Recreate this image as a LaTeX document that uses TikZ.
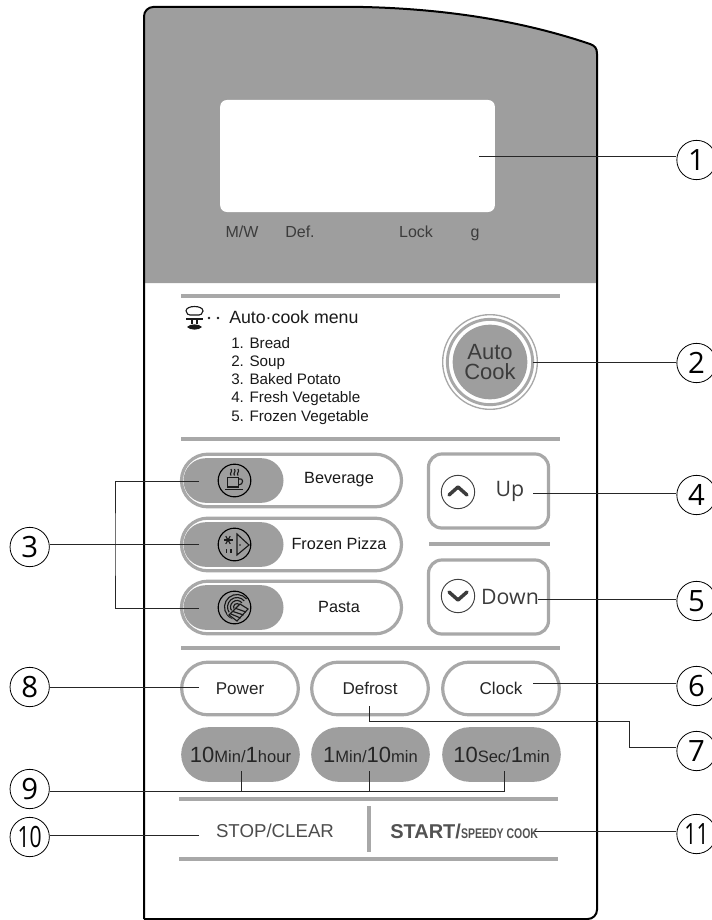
\documentclass[tikz,border=0pt]{standalone}
\usepackage{graphicx}
\usepackage{fontspec}
\setmainfont{Liberation Sans}
\newfontfamily\numfont{Open Sans}
\usetikzlibrary{calc,shapes.misc}

\definecolor{panelgray}{HTML}{9E9E9E}
\definecolor{rimgray}{HTML}{A8A8A8}
\definecolor{inkgray}{HTML}{3C3C3C}
\newcommand{\fs}[1]{\fontsize{#1}{#1}\selectfont}

\begin{document}
\begin{tikzpicture}[x=0.75pt,y=-0.75pt,
    numcircle/.style={circle,draw,fill=white,line width=0.6pt,minimum size=29.5pt,inner sep=0pt,font=\numfont\fs{22}},
    leader/.style={line width=0.75pt,color=black!85},
    panelrule/.style={line width=2.4pt,color=rimgray},
    softkey/.style={rounded rectangle,draw=rimgray,fill=white,line width=2.4pt,minimum width=87.5pt,minimum height=39.5pt,inner sep=0pt,font=\fs{12.8},text=black!85},
    widekey/.style={softkey,minimum width=165pt},
    iconpad/.style={rounded rectangle,fill=panelgray,minimum width=75pt,minimum height=33.5pt,inner sep=0pt},
    timekey/.style={rounded rectangle,fill=panelgray,minimum width=89pt,minimum height=41pt,inner sep=0pt,text=black!85},
    arrowkey/.style={rounded corners=10pt,draw=rimgray,fill=white,line width=2.4pt,minimum width=90pt,minimum height=55.5pt},
    arrowdisc/.style={circle,draw=black!75,line width=0.7pt,minimum size=25pt,inner sep=0pt},
    lamp/.style={anchor=base,text=inkgray,font=\fs{12}},
    icon/.style={line width=0.85pt,color=black!90},
    chevron/.style={line width=2.6pt,color=inkgray,line cap=round,line join=round}]

    \useasboundingbox (0,0) rectangle (712,920);

    % housing
    \fill[panelgray] (144,283) -- (144,15) arc[start angle=180,end angle=90,radius=6pt] -- (363,7)
        .. controls (450,9) and (525,22) .. (590,44) .. controls (595,46) and (597,48) .. (597,54) -- (597,283) -- cycle;
    \draw[line width=1.5pt,rounded corners=7pt] (144,919) -- (144,7) -- (363,7);
    \draw[line width=1.5pt] (363,7) .. controls (450,9) and (525,22) .. (590,44) .. controls (595,46) and (597,48) .. (597,54);
    \draw[line width=1.5pt,rounded corners=7pt] (597,54) -- (597,919) -- (144,919);

    \node[fill=white,rounded corners=5pt,minimum width=206pt,minimum height=84pt,inner sep=0pt] (screen) at (357.5,156) {};
    \foreach \name/\px in {M\slash W/242,Def./300,Lock/416,g/475}
        \node[lamp] at (\px,237) {\name};

    \foreach \ya in {296,439,648}
        \draw[panelrule] (181,\ya) -- (560,\ya);
    \draw[panelrule] (429,544) -- (550,544);
    \foreach \ya in {799,859}
        \draw[panelrule] (179,\ya) -- (558,\ya);
    \draw[panelrule] (369,806) -- (369,852);

    % auto cook menu
    \begin{scope}[icon]
        \draw (186,311) .. controls (186,305) and (203,305) .. (203,311) .. controls (203,314) and (200,315) .. (199,315) -- (190,315) .. controls (189,315) and (186,314) .. (186,311);
        \draw (186,319) -- (203,319);
        \draw (192,320) -- (192,324) (197,320) -- (197,324);
        \fill (187,327) .. controls (190,323.5) and (199,323.5) .. (202,327) .. controls (199,330.5) and (190,330.5) .. (187,327);
        \fill (209,318) circle (1.1pt) (218,318) circle (1.1pt);
    \end{scope}
    \node[anchor=base west,inner sep=0pt,font=\fs{13.3},text=black!90] (menutitle) at (229,323) {Auto·cook menu};
    \node[anchor=north west,inner sep=0pt,align=left,font=\fontsize{11.4}{13.65}\selectfont,text=black!90] (menulist) at (231,337)
        {1. Bread\\2. Soup\\3. Baked Potato\\4. Fresh Vegetable\\5. Frozen Vegetable};

    \draw[line width=1pt,color=rimgray] (490,362) circle (35.5pt);
    \draw[line width=2.2pt,color=rimgray] (490,362) circle (32pt);
    \node[circle,fill=panelgray,minimum size=56pt,inner sep=0pt,align=center,font=\fontsize{16.5}{15.5}\selectfont,text=inkgray] (autocook) at (490,362) {Auto\\Cook};

    % icon keys
    \foreach \key/\ya/\name in {bev/480.5/Beverage,piz/544.5/Frozen Pizza,pas/607.5/Pasta}{
        \node[widekey] (\key) at (291.5,\ya) {};
        \node[iconpad] (\key pad) at (233.5,\ya) {};
        \node[circle,draw,line width=0.85pt,minimum size=24.5pt,inner sep=0pt] (\key icon) at (234.5,\ya) {};
        \node[font=\fs{12.2},text=black!90] (\key text) at (339,\ya-1) {\name};
    }

    \begin{scope}[icon]
        % cup
        \draw (227.5,477.5) rectangle (238.5,487);
        \draw (238.5,479) .. controls (244,477) and (244,485) .. (238.5,485);
        \draw[line width=1pt] (225,489.3) -- (243,489.3);
        \foreach \sx in {231,234.5,238}
            \draw (\sx,475.5) .. controls (\sx-2,473) and (\sx+2,472) .. (\sx,469);
        % pizza
        \draw (237,534) -- (249,545) -- (237,555) -- cycle;
        \fill (240,545) circle (0.6pt);
        \foreach \rr in {0,60,120}
            \draw ($(228,540)+(\rr:4.5)$) -- ($(228,540)+(\rr+180:4.5)$);
        \draw[line width=1pt] (226.5,549) -- (226.5,553) (231,549) -- (231,553);
        % pasta
        \foreach \rr in {12.5,9.5,6.5,3.5}
            \draw ($(237,607)+(-40:\rr)$) arc[start angle=-40,end angle=-250,radius=\rr];
        \fill[panelgray] (240,604) -- (249,610) -- (237,623) -- (227,614) -- cycle;
        \draw (240,604) -- (248,609) -- (237,621) -- (229,615) -- cycle;
        \draw (236,608.5) -- (246,612) (233,611.5) -- (243.5,615) (231,614) -- (240.5,618);
    \end{scope}

    % up down keys
    \node[arrowkey] (upkey) at (488.5,491) {};
    \node[arrowkey] (downkey) at (488.5,597) {};
    \node[arrowdisc] (updisc) at (458,492) {};
    \node[arrowdisc] (downdisc) at (458,596) {};
    \draw[chevron] (449,495) -- (458,487) -- (467,495);
    \draw[chevron] (449,592) -- (458,600) -- (467,592);
    \node[font=\numfont\fs{16},text=inkgray] (uptext) at (510,491) {Up};
    \node[font=\numfont\fs{16},text=inkgray] (downtext) at (510,597) {Down};

    % plain and time keys
    \foreach \key/\px/\name in {power/240/Power,defrost/370/Defrost,clock/501/Clock}
        \node[softkey] (\key) at (\px,688.5) {\name};
    \node[timekey] (hourkey) at (240.5,754.5) {\fs{16.5}10\fs{12.4}Min/\fs{16.5}1\fs{12.4}hour};
    \node[timekey] (minkey) at (370.5,754.5) {\fs{16.5}1\fs{12.4}Min/\fs{16.5}10\fs{12.4}min};
    \node[timekey] (seckey) at (501.5,754.5) {\fs{16.5}10\fs{12.4}Sec/\fs{16.5}1\fs{12.4}min};

    \node[font=\fs{14},text=black!70] (stopkey) at (275,831) {STOP/CLEAR};
    \node[anchor=west,inner sep=0pt,font=\bfseries\fs{15},text=black!68] (startkey) at (390,831) {START/\scalebox{.75}[1]{\fs{10.5}SPEEDY COOK}};

    % callouts
    \foreach \idx/\px/\py in {1/696.5/160,2/696.5/363,4/696.5/495,5/696.5/601,6/696.5/686,7/696.5/751,3/29.7/547,8/29.7/687,9/29.7/789}
        \node[numcircle] (n\idx) at (\px,\py) {\idx};
    \node[numcircle] (n10) at (29.7,837) {\scalebox{.72}[1]{10}};
    \node[numcircle] (n11) at (696.5,834) {\scalebox{.72}[1]{11}};

    \coordinate (t1) at (479,157);
    \coordinate (t2) at (533,362);
    \coordinate (t4) at (533,493);
    \coordinate (t5) at (538,599);
    \coordinate (t6) at (533,683);
    \coordinate (t11) at (535,831);
    \foreach \idx in {1,2,4,5,6,11}
        \draw[leader] (t\idx) -- (t\idx -| n\idx.west);

    \coordinate (t8) at (199,687);
    \coordinate (t10) at (199,835);
    \foreach \idx in {8,10}
        \draw[leader] (t\idx) -- (t\idx -| n\idx.east);

    \coordinate (t3a) at (199,481);
    \coordinate (t3b) at (199,544);
    \coordinate (t3c) at (199,608);
    \coordinate (j3) at (115,544);
    \draw[leader] (t3b) -- (t3b -| n3.east);
    \draw[leader] (t3a) -| (j3) |- (t3c);

    \coordinate (t7) at (369,706);
    \coordinate (b7) at (629,721);
    \coordinate (c7) at (629,747);
    \draw[leader] (t7) |- (b7) -- (c7) -- (c7 -| n7.west);

    \coordinate (t9a) at (241,771);
    \coordinate (t9b) at (369,771);
    \coordinate (t9c) at (504,771);
    \coordinate (j9) at (504,791);
    \draw[leader] (j9 -| n9.east) -- (j9) -- (t9c);
    \draw[leader] (t9a) -- (t9a |- j9);
    \draw[leader] (t9b) -- (t9b |- j9);
\end{tikzpicture}
\end{document}
